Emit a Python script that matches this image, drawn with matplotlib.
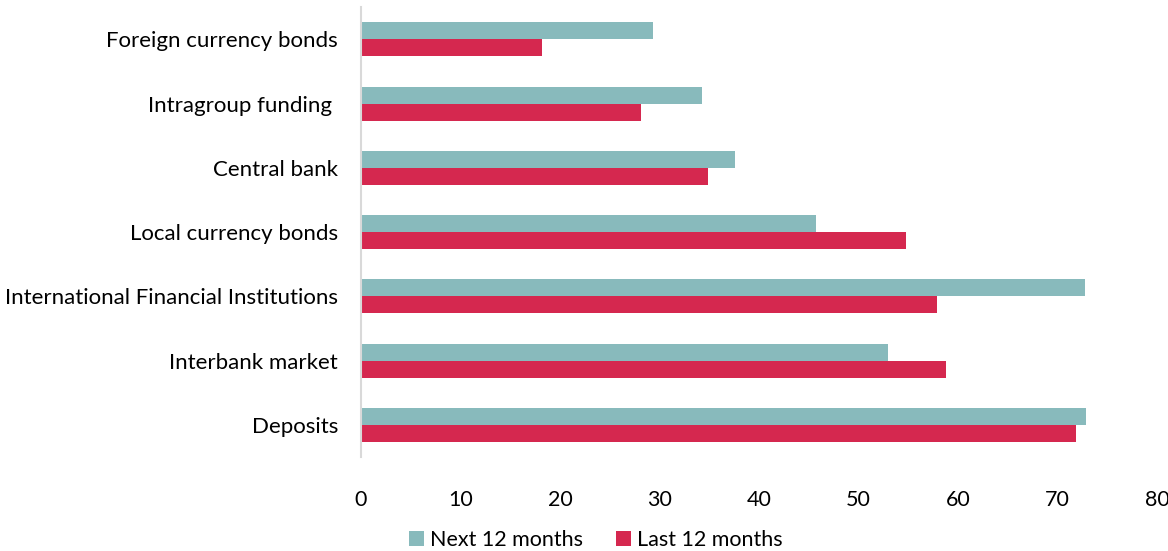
import matplotlib
matplotlib.use("Agg")
import matplotlib.pyplot as plt
import numpy as np

categories = ["Foreign currency bonds", "Intragroup funding ", "Central bank",
              "Local currency bonds", "International Financial Institutions",
              "Interbank market", "Deposits"]
next_12 = [29.4, 34.3, 37.6, 45.7, 72.8, 53.0, 72.9]
last_12 = [18.2, 28.1, 34.9, 54.8, 57.9, 58.8, 71.9]
xticks = [0, 10, 20, 30, 40, 50, 60, 70, 80]

plt.rcParams['font.family'] = ['Lato', 'DejaVu Sans']

fig = plt.figure(figsize=(11.68, 5.51), dpi=100)
ax = fig.add_axes([0.309, 0.1706, 0.6815, 0.8164])

y = np.arange(len(categories))
h = 0.265
ax.barh(y - h/2, next_12, height=h, color="#88BABC", label="Next 12 months")
ax.barh(y + h/2, last_12, height=h, color="#D5284F", label="Last 12 months")

ax.set_ylim(len(categories) - 0.5, -0.5)
ax.set_xlim(0, 80)
ax.set_yticks(y)
ax.set_yticklabels(categories, fontsize=16)
ax.set_xticks(xticks)
ax.set_xticklabels([str(t) for t in xticks], fontsize=15.5)
ax.tick_params(axis='y', length=0, pad=16.5)
ax.tick_params(axis='x', length=0, pad=24)
for s in ['top', 'right', 'bottom']:
    ax.spines[s].set_visible(False)
ax.spines['left'].set_color('#D9D9D9')
ax.spines['left'].set_linewidth(1.5)

fig.legend(loc='center', bbox_to_anchor=(0.51, 0.02), ncol=2, frameon=False,
           fontsize=15.5, handlelength=0.7, handleheight=0.7, handletextpad=0.3,
           columnspacing=1.5)

fig.savefig("out.png", dpi=100)
